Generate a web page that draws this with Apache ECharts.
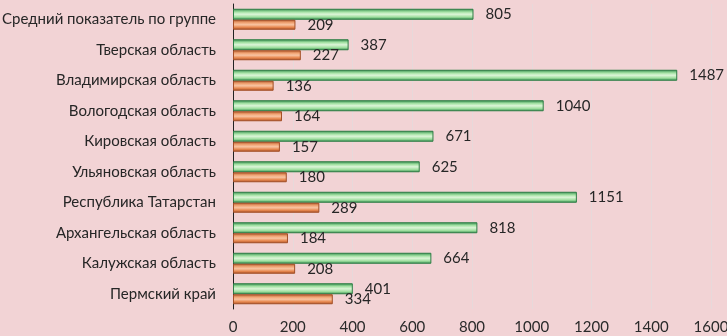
<!DOCTYPE html>
<html><head><meta charset="utf-8">
<script src="https://cdn.jsdelivr.net/npm/echarts@6/dist/echarts.min.js"></script>
<style>html,body{margin:0;padding:0;background:#f2d3d5}#c{width:727px;height:336px}</style>
</head><body><div id="c"></div>
<script>
const categories = ['Средний показатель по группе','Тверская область','Владимирская область','Вологодская область','Кировская область','Ульяновская область','Республика Татарстан','Архангельская область','Калужская область','Пермский край'];
const greenValues = [805,387,1487,1040,671,625,1151,818,664,401];
const orangeValues = [209,227,136,164,157,180,289,184,208,334];
const xTicks = [0,200,400,600,800,1000,1200,1400,1600];

const chart = echarts.init(document.getElementById('c'), null, {renderer:'canvas'});
const font = 'Lato, "Open Sans", sans-serif';
chart.setOption({
  backgroundColor:'#f2d3d5',
  animation:false,
  grid:{left:233,right:16,top:4,bottom:27,containLabel:false,outerBoundsMode:'none'},
  xAxis:{type:'value',min:xTicks[0],max:xTicks[xTicks.length-1],interval:200,
    axisLine:{show:false},axisTick:{show:false},
    splitLine:{show:true,lineStyle:{color:'#e7d9da',width:1}},
    axisLabel:{color:'#2a2a2a',fontSize:15,fontFamily:font,margin:11,formatter:v=>String(v)}},
  yAxis:{type:'category',data:categories,inverse:true,
    axisLine:{show:true,lineStyle:{color:'#222',width:1}},axisTick:{show:false},
    axisLabel:{color:'#262626',fontSize:15,fontFamily:font,margin:17}},
  series:[
    {type:'bar',data:greenValues,barWidth:11,barGap:'0%',
     itemStyle:{borderColor:'#2e7d45',borderWidth:1,
       color:{type:'linear',x:0,y:0,x2:0,y2:1,colorStops:[
         {offset:0,color:'#2f8a4a'},{offset:0.3,color:'#a6e3a6'},{offset:0.5,color:'#dcf5d8'},{offset:0.75,color:'#a0dfa0'},{offset:1,color:'#2f8a4a'}]}},
     label:{show:true,position:'right',distance:12,color:'#262626',fontSize:15,fontFamily:font}},
    {type:'bar',data:orangeValues,barWidth:10,
     itemStyle:{borderColor:'#a24f26',borderWidth:1,
       color:{type:'linear',x:0,y:0,x2:0,y2:1,colorStops:[
         {offset:0,color:'#b4582a'},{offset:0.3,color:'#f2a676'},{offset:0.5,color:'#f8c4a2'},{offset:0.75,color:'#e8884f'},{offset:1,color:'#a85028'}]}},
     label:{show:true,position:'right',distance:12,color:'#262626',fontSize:15,fontFamily:font}}
  ]
});
</script></body></html>
